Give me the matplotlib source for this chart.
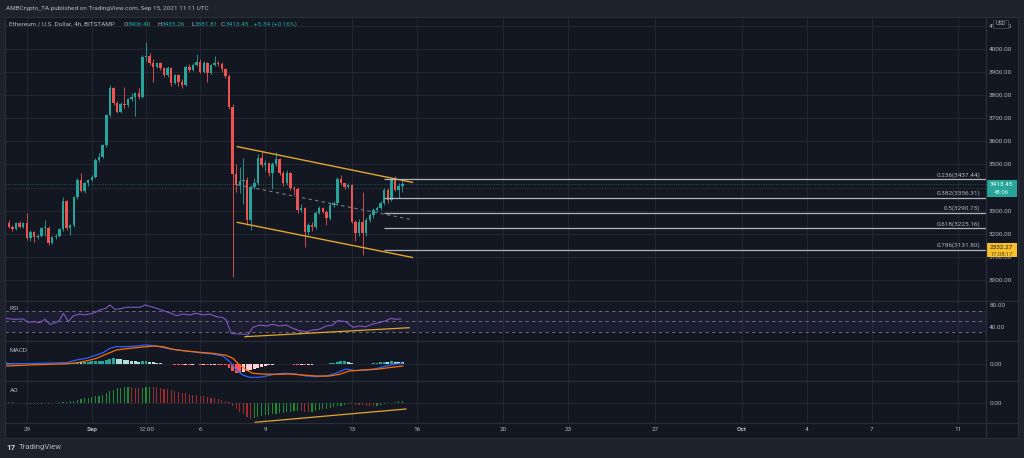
import matplotlib
matplotlib.use('Agg')
import matplotlib.pyplot as plt
import matplotlib.transforms as mtrans
from matplotlib.patches import Rectangle
import numpy as np
import pandas as pd

plt.rcParams['font.family'] = ['Roboto', 'DejaVu Sans']

# ---------------- data ----------------
start = '2021-08-28 00:00'   # first 4h candle
opens = [3274, 3245, 3231, 3222, 3245, 3231, 3245, 3180, 3209, 3185,
         3192, 3224, 3226, 3159, 3185, 3190, 3219, 3341, 3224, 3236,
         3358, 3433, 3387, 3419, 3433, 3447, 3520, 3534, 3584, 3714,
         3830, 3765, 3729, 3762, 3758, 3782, 3794, 3808, 3794, 3965,
         3968, 3941, 3924, 3938, 3916, 3887, 3916, 3854, 3887, 3858,
         3845, 3924, 3909, 3931, 3945, 3902, 3940, 3898, 3931, 3938,
         3935, 3912, 3883, 3750, 3459, 3411, 3430, 3433, 3260, 3404,
         3418, 3527, 3498, 3505, 3462, 3500, 3522, 3462, 3418, 3462,
         3397, 3395, 3303, 3310, 3209, 3238, 3228, 3291, 3310, 3296,
         3267, 3325, 3332, 3436, 3418, 3404, 3410, 3252, 3202, 3252,
         3202, 3260, 3281, 3303, 3310, 3332, 3390, 3346, 3436, 3390,
         3406.40]
highs = [3288, 3258, 3240, 3252, 3255, 3250, 3288, 3215, 3214, 3198,
         3230, 3260, 3232, 3192, 3198, 3225, 3360, 3345, 3244, 3363,
         3440, 3462, 3425, 3438, 3455, 3528, 3548, 3590, 3720, 3845,
         3836, 3775, 3770, 3835, 3790, 3810, 3815, 3830, 3975, 4030,
         3982, 3955, 3945, 3944, 3922, 3925, 3922, 3893, 3892, 3868,
         3930, 3935, 3938, 3978, 3958, 3948, 3945, 3936, 3970, 3948,
         3942, 3918, 3890, 3760, 3500, 3490, 3528, 3445, 3412, 3440,
         3545, 3560, 3520, 3512, 3512, 3556, 3530, 3470, 3475, 3468,
         3405, 3402, 3330, 3318, 3248, 3250, 3300, 3320, 3318, 3302,
         3332, 3340, 3448, 3455, 3425, 3420, 3415, 3260, 3262, 3382,
         3268, 3290, 3310, 3320, 3340, 3400, 3398, 3440, 3450, 3418,
         3435.26]
lows = [3240, 3225, 3212, 3218, 3226, 3226, 3172, 3168, 3165, 3178,
        3186, 3190, 3150, 3155, 3176, 3185, 3214, 3218, 3196, 3230,
        3350, 3380, 3375, 3405, 3428, 3440, 3512, 3528, 3575, 3705,
        3757, 3722, 3725, 3745, 3750, 3775, 3708, 3785, 3790, 3948,
        3932, 3859, 3918, 3908, 3880, 3880, 3838, 3848, 3838, 3830,
        3840, 3900, 3903, 3925, 3895, 3895, 3858, 3890, 3925, 3925,
        3902, 3875, 3740, 3014, 3380, 3375, 3330, 3240, 3216, 3395,
        3410, 3490, 3470, 3450, 3392, 3495, 3455, 3408, 3410, 3388,
        3370, 3290, 3295, 3144, 3195, 3210, 3222, 3285, 3288, 3240,
        3260, 3318, 3325, 3410, 3395, 3398, 3245, 3170, 3190, 3108,
        3190, 3252, 3270, 3296, 3302, 3325, 3335, 3340, 3384, 3353,
        3381.81]
closes = [3245, 3231, 3222, 3245, 3231, 3245, 3180, 3209, 3185, 3192,
          3224, 3226, 3159, 3185, 3190, 3219, 3341, 3224, 3236, 3358,
          3433, 3387, 3419, 3433, 3447, 3520, 3534, 3584, 3714, 3830,
          3765, 3729, 3762, 3758, 3782, 3794, 3808, 3794, 3965, 3968,
          3941, 3924, 3938, 3916, 3887, 3916, 3854, 3887, 3858, 3845,
          3924, 3909, 3931, 3945, 3902, 3940, 3898, 3931, 3938, 3935,
          3912, 3883, 3750, 3459, 3411, 3430, 3433, 3260, 3404, 3418,
          3527, 3498, 3505, 3462, 3500, 3522, 3462, 3418, 3462, 3397,
          3395, 3303, 3310, 3209, 3238, 3228, 3291, 3310, 3296, 3267,
          3325, 3332, 3436, 3418, 3404, 3410, 3252, 3202, 3252, 3202,
          3260, 3281, 3303, 3310, 3332, 3390, 3346, 3436, 3390, 3407,
          3413.45]

tick_times = ['2021-08-29', '2021-09-01', '2021-09-03 12:00', '2021-09-06',
              '2021-09-09', '2021-09-13', '2021-09-16', '2021-09-20',
              '2021-09-23', '2021-09-27', '2021-10-01', '2021-10-04',
              '2021-10-07', '2021-10-11']
tick_labels = ['29', 'Sep', '12:00', '6', '9', '13', '16', '20', '23', '27',
               'Oct', '4', '7', '11']
price_ticks = [3000, 3100, 3200, 3300, 3400, 3500, 3600, 3700, 3800, 3900,
               4000, 4100]

fib_ratios = ['0.236', '0.382', '0.5', '0.618', '0.786']
fib_levels = [3437.44, 3356.31, 3290.73, 3225.16, 3131.80]
fib_start = '2021-09-14 12:00'

# drawn trend lines: (bar position, value) anchors
channel_x = [64.1, 113.0]
channel_upper = [3578, 3422]
channel_lower = [3250, 3097]
channel_mid = [3413, 3260]

rsi_x = [0.2, 2.2, 5, 6.4, 7.8, 9.6, 11, 12.4, 14.2, 15.1, 16.1, 17.5, 18.8,
         20.7, 22, 23.4, 24.8, 26.2, 27.9, 29, 30.4, 31.7, 33.6, 35.4, 37.3,
         38.7, 41, 42.8, 44.6, 46, 47.4, 49.3, 51.1, 52.9, 54.8, 56.6, 58.5,
         60.3, 61.2, 62.6, 64.5, 66.3, 67.2, 68.6, 70.5, 72.3, 74.1, 76, 77.8,
         79.7, 81.5, 83.4, 85.2, 87, 88.9, 90.7, 92.1, 94.4, 96.3, 98.1, 99.9,
         101.8, 103.6, 105.5, 106.9, 108.2, 109.6]
rsi_val = [55.7, 53.8, 54.4, 48.2, 49.4, 47.6, 53.8, 44.5, 48.2, 52.5, 65,
           49.4, 60, 63.8, 61.9, 63.8, 66.3, 71.3, 74.4, 80.6, 72.5, 73.1,
           76.3, 76.3, 76.3, 80.6, 76.3, 72.5, 68.1, 65, 60.6, 63.8, 61.9, 65,
           61.9, 63.8, 58.8, 56.9, 52.5, 27.5, 26.3, 26.3, 24.4, 38.8, 43.1,
           41.3, 44.5, 41.3, 43.1, 36.9, 32.5, 30.6, 33.8, 35.1, 41.3, 43.1,
           51.3, 49.4, 38.8, 41.3, 40, 45, 47.6, 51.3, 55.6, 53.8, 54.4]
rsi_trend_x = [66.4, 111.9]
rsi_trend = [21.3, 38.1]

macd_x = [0.2, 7.8, 17, 19.8, 22.5, 25.3, 27.1, 29, 30.8, 33.6, 36.4, 39.1,
          41.9, 44.6, 47.4, 50.2, 53.9, 57.5, 60.3, 62.2, 64, 65.8, 67.7,
          70.4, 72.3, 75, 77.8, 80.6, 83.4, 86.1, 88.9, 91.6, 94.4, 97.2,
          99.9, 102.7, 105.5, 108.2, 110.1]
macd_val = [0, 5, 11, 34, 48, 76, 95, 132, 146, 146, 151, 160, 151, 132, 118,
            109, 95, 84, 67, 20, -50, -92, -112, -112, -101, -84, -78, -84,
            -101, -106, -101, -78, -42, -56, -50, -39, -17, 0, 6]
signal_x = [0.2, 7.8, 17, 19.8, 22.5, 25.3, 28.1, 30.8, 33.6, 37.3, 41, 43.7,
            46.5, 50.2, 53.9, 57.5, 61.2, 63.1, 64.9, 66.8, 68.6, 71.4, 75,
            78.7, 82.4, 86.1, 89.8, 92.6, 95.3, 99, 102.7, 106.3, 110.1]
signal_val = [-16.8, -6.7, 1.7, 10, 25.8, 47.6, 84, 117.6, 128.8, 140, 151,
              145.6, 123, 109, 98, 89.6, 72.8, 47.6, -8.4, -50.4, -78.4, -84,
              -86.8, -84, -92.4, -100.8, -100.8, -86.8, -58.8, -50.4, -44.8,
              -30.8, -16.8]
macd_hist = [15, 12, 10, 8, 6, 5, 2, 0, -3, -4, -3, -2, -5, -4, -3, -1, 5, 3,
             6, 12, 18, 16, 18, 20, 22, 25, 26, 28, 35, 45, 50, 46, 42, 36, 32,
             28, 24, 18, 22, 24, 20, 15, 12, 8, 4, 2, -3, -5, -8, -10, -6, -6,
             -5, -3, -6, -5, -7, -6, -5, -5, -8, -12, -30, -60, -72, -75, -70,
             -62, -50, -40, -30, -22, -15, -12, -8, -4, -2, -3, -2, -4, -6, -8,
             -7, -10, -8, -6, -2, 2, 3, 2, 6, 10, 18, 22, 22, 18, 8, 2, 0, -3,
             0, 4, 7, 10, 13, 18, 17, 22, 20, 19, 18]

ao_val = [10, 5, 5, -5, -10, -15, -20, -20, -25, -20, -20, -15, -20, -15, -5,
          5, 15, 20, 30, 40, 60, 75, 90, 100, 110, 125, 140, 160, 190, 230,
          260, 285, 300, 315, 320, 310, 300, 295, 300, 310, 315, 312, 305,
          295, 280, 265, 250, 235, 220, 200, 185, 170, 160, 150, 140, 130,
          115, 100, 90, 75, 60, 40, 10, -60, -120, -180, -230, -280, -320,
          -300, -280, -265, -250, -240, -230, -220, -210, -200, -190, -180,
          -170, -165, -172, -180, -185, -180, -165, -150, -135, -120, -105,
          -90, -75, -60, -45, -30, -35, -42, -48, -55, -58, -60, -62, -58,
          -45, -30, -15, 0, 12, 25, 35]
ao_trend_x = [69.2, 111.0]
ao_trend = [-392, -126]

header = 'AMBCrypto_TA published on TradingView.com, Sep 15, 2021 11:11 UTC'
symbol = 'Ethereum / U.S. Dollar, 4h, BITSTAMP'
ohlc_text = [('O', '3406.40'), ('H', '3435.26'), ('L', '3381.81'), ('C', '3413.45')]
change_text = '+5.34 (+0.16%)'
countdown = '48:06'
other_label = ('2332.27', '17:08:17')

# ---------------- styles / layout ----------------
W, H = 1024, 458
BG_OUT = '#1e222d'
BG = '#131722'
GRID = '#22262f'
SEP = '#2a2e39'
TXT = '#b2b5be'
UP = '#26a69a'
DN = '#ef5350'
ORANGE = '#e3a62c'
FS = 4.6

t0 = pd.Timestamp(start)
step = pd.Timedelta(hours=4)
def bpos(t):
    return (pd.Timestamp(t) - t0) / step

o = np.array(opens, float); h = np.array(highs, float)
l = np.array(lows, float); c = np.array(closes, float)
n = len(c)
xb = np.arange(n)

fig = plt.figure(figsize=(W / 100, H / 100), dpi=100)
fig.patch.set_facecolor(BG_OUT)

def px_rect(x0, y0, x1, y1):
    return [x0 / W, 1 - y1 / H, (x1 - x0) / W, (y1 - y0) / H]

bg = fig.add_axes([0, 0, 1, 1], zorder=-5)
bg.set_xlim(0, W); bg.set_ylim(H, 0); bg.axis('off')
bg.add_patch(Rectangle((5, 17), 1013, 421, facecolor=BG, edgecolor='none'))

LEFT, RIGHT = 5, 986
X0, PPB = 5.2, 3.61
xlim = ((LEFT - X0) / PPB, (RIGHT - X0) / PPB)

panes = [(17, 301), (301, 341), (341, 381), (381, 423)]
axes = []
for (y0, y1) in panes:
    ax = fig.add_axes(px_rect(LEFT, y0, RIGHT, y1))
    ax.set_facecolor('none')
    for s in ax.spines.values():
        s.set_visible(False)
    ax.set_xlim(*xlim)
    ax.yaxis.tick_right()
    ax.tick_params(axis='y', length=0, pad=2.3, labelsize=FS, labelcolor=TXT)
    ax.tick_params(axis='x', length=0, pad=3, labelsize=FS, labelcolor=TXT,
                   labelbottom=False)
    ax.set_xticks([bpos(t) for t in tick_times])
    ax.grid(True, axis='x', color=GRID, lw=0.8)
    ax.set_axisbelow(True)
    axes.append(ax)
ax_main, ax_rsi, ax_macd, ax_ao = axes

# ---- main pane ----
ax_main.set_ylim(2909.1, 4138.5)
ax_main.set_yticks(price_ticks)
ax_main.set_yticklabels([f'{p:.2f}' for p in price_ticks])
ax_main.grid(True, axis='y', color=GRID, lw=0.8)

up = c >= o
cols = np.where(up, UP, DN)
ax_main.vlines(xb, l, h, colors=cols, lw=0.6, zorder=3)
body_b = np.minimum(o, c)
body_h = np.maximum(np.abs(c - o), 3.5)
ax_main.bar(xb, body_h, bottom=body_b, width=0.68, color=cols, linewidth=0,
            zorder=4)

ax_main.axhline(c[-1], color=UP, lw=0.7, ls=(0, (1, 1.5)), alpha=0.45, zorder=2)

ax_main.plot(channel_x, channel_upper, color=ORANGE, lw=1.0, zorder=5,
             solid_capstyle='butt')
ax_main.plot(channel_x, channel_lower, color=ORANGE, lw=1.0, zorder=5,
             solid_capstyle='butt')
ax_main.plot(channel_x, channel_mid, color='#787b86', lw=0.8,
             ls=(0, (3, 3)), zorder=5)

fx = bpos(fib_start)
ax_main.hlines(fib_levels, fx, xlim[1], color='#b2b5be', lw=0.9, zorder=5)
tr = mtrans.blended_transform_factory(ax_main.transAxes, ax_main.transData)
tr = mtrans.offset_copy(tr, fig=fig, x=0, y=4.3, units='dots')
fx_lab = (980 - LEFT) / (RIGHT - LEFT)
for r, lv in zip(fib_ratios, fib_levels):
    ax_main.text(fx_lab, lv, f'{r}({lv:.2f})', transform=tr, ha='right',
                 va='center', fontsize=FS, color=TXT, zorder=6)

# ---- RSI ----
ax_rsi.set_ylim(13.3, 88)
ax_rsi.set_yticks([40, 80])
ax_rsi.set_yticklabels(['40.00', '80.00'])
ax_rsi.axhspan(30, 70, color='#7e57c2', alpha=0.1, lw=0)
ax_rsi.hlines([70, 50, 30], xlim[0], xlim[1], color='#787b86', lw=0.6,
              ls=(0, (4, 4)))
ax_rsi.plot(rsi_x, rsi_val, color='#7e57c2', lw=0.8, zorder=4)
ax_rsi.plot(rsi_trend_x, rsi_trend, color=ORANGE, lw=0.9, zorder=5)

# ---- MACD ----
ax_macd.set_ylim(-142.8, 193.2)
ax_macd.set_yticks([0])
ax_macd.set_yticklabels(['0.00'])
ax_macd.grid(True, axis='y', color=GRID, lw=0.8)
hist = np.array(macd_hist, float)
prev = np.r_[hist[0], hist[:-1]]
hcols = np.where(hist >= 0, np.where(hist >= prev, '#26a69a', '#b2dfdb'),
                 np.where(hist <= prev, '#ff5252', '#ffcdd2'))
ax_macd.bar(xb, hist, width=0.8, color=hcols, linewidth=0, zorder=3)
ax_macd.plot(macd_x, macd_val, color='#2962ff', lw=0.9, zorder=4)
ax_macd.plot(signal_x, signal_val, color='#ff6d00', lw=0.9, zorder=4)

# ---- AO ----
ax_ao.set_ylim(-406, 434)
ax_ao.set_yticks([0])
ax_ao.set_yticklabels(['0.00'])
ax_ao.grid(True, axis='y', color=GRID, lw=0.8)
ao = np.array(ao_val, float)
aprev = np.r_[ao[0], ao[:-1]]
acols = np.where(ao >= aprev, '#1f8a36', '#a12a2a')
ax_ao.bar(xb, ao, width=0.32, color=acols, linewidth=0, zorder=3)
ax_ao.plot(ao_trend_x, ao_trend, color=ORANGE, lw=0.9, zorder=5, clip_on=False)
ax_ao.tick_params(axis='x', labelbottom=True)
ax_ao.set_xticklabels(tick_labels)
for lab in ax_ao.get_xticklabels():
    if lab.get_text() in ('Sep', 'Oct'):
        lab.set_fontweight('bold')

# ---------------- overlay ----------------
fg = fig.add_axes([0, 0, 1, 1], zorder=10)
fg.set_xlim(0, W); fg.set_ylim(H, 0); fg.axis('off')
fg.patch.set_alpha(0)
fg.hlines([301, 341, 381, 423], 5, 1018, color=SEP, lw=0.9)
fg.vlines(986, 17, 438, color=SEP, lw=0.9)
fg.add_patch(Rectangle((5, 17), 1013, 421, facecolor='none', edgecolor=SEP,
                       lw=0.9))

# current price box
ypx = H - ax_main.transData.transform((0, c[-1]))[1]
fg.add_patch(Rectangle((986.5, ypx - 4.6), 30.5, 17, facecolor=UP,
                       edgecolor='none'))
fg.text(1001.5, ypx, f'{c[-1]:.2f}', color='white', fontsize=FS, ha='center',
        va='center')
fg.text(1001.5, ypx + 7.6, countdown, color='#e0f2f1', fontsize=FS - 0.2,
        ha='center', va='center')

# other yellow label
fg.add_patch(Rectangle((986.5, 242.7), 30.5, 14, facecolor='#f9c02d',
                       edgecolor='none'))
fg.text(1001.5, 247.3, other_label[0], color='#131722', fontsize=FS,
        ha='center', va='center')
t2 = fg.text(1001.5, 254.8, other_label[1], color='#5a4a10', fontsize=FS - 0.4,
             ha='center', va='center')
t2.set_clip_path(Rectangle((986.5, 242.7), 30.5, 14, transform=fg.transData))

# USD box
fg.add_patch(Rectangle((993, 19.5), 15, 8, facecolor=BG, edgecolor='#434651',
                       lw=0.6))
fg.text(1000.5, 23.6, 'USD', color=TXT, fontsize=FS - 0.6, ha='center',
        va='center')

# header & legend
fg.text(6, 8.3, header, color=TXT, fontsize=FS, ha='left', va='center')
fg.text(9.3, 24, symbol, color=TXT, fontsize=FS, ha='left', va='center')
ohlc_x = [(124, 128), (158, 162), (191, 194.5), (221, 225.3)]
for (k, v), (xk, xv) in zip(ohlc_text, ohlc_x):
    fg.text(xk, 24, k, color=TXT, fontsize=FS, ha='left', va='center')
    fg.text(xv, 24, v, color=UP, fontsize=FS, ha='left', va='center')
fg.text(254, 24, change_text, color=UP, fontsize=FS, ha='left', va='center')

# pane labels
for txt, yy in [('RSI', 309), ('MACD', 350), ('AO', 390)]:
    fg.text(10, yy, txt, color=TXT, fontsize=FS, ha='left', va='center')

# footer logo
fg.text(6, 447.5, '17', color='#d1d4dc', fontsize=5.8, fontweight='bold',
        ha='left', va='center')
fg.text(18.5, 447.5, 'TradingView', color=TXT, fontsize=5.6, ha='left',
        va='center')

fig.savefig('out.png', dpi=100, facecolor=BG_OUT)
